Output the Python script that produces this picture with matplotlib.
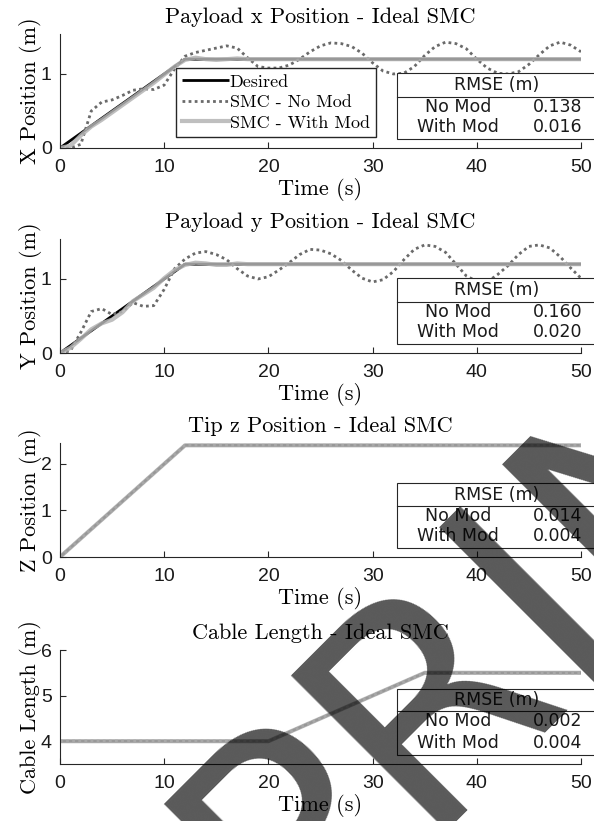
import numpy as np
import matplotlib
matplotlib.use("Agg")
import matplotlib.pyplot as plt
from matplotlib.patches import Rectangle
from matplotlib.lines import Line2D

# ---------------- data ----------------
t_grid = np.arange(0, 51, 1.0)

# Payload x
x_des_t = [0, 12, 50]
x_des = [0.0, 1.2, 1.2]
x_nomod = [0.00, 0.00, 0.05, 0.50, 0.62, 0.65, 0.71, 0.78, 0.80, 0.79, 0.85, 1.07, 1.24, 1.29, 1.32, 1.35,
           1.38, 1.35, 1.22, 1.10, 1.08, 1.08, 1.12, 1.20, 1.30, 1.38, 1.42, 1.41, 1.37, 1.28, 1.15, 1.04,
           1.00, 1.01, 1.10, 1.25, 1.37, 1.43, 1.41, 1.34, 1.20, 1.08, 1.01, 1.00, 1.03, 1.13, 1.26, 1.38,
           1.43, 1.39, 1.30]
x_with_t = [0, 1, 2, 3, 4, 5, 6, 7, 8, 9, 10, 11, 12, 13, 14, 15, 16, 17, 18, 50]
x_with = [0.00, 0.03, 0.17, 0.29, 0.38, 0.48, 0.58, 0.68, 0.78, 0.88, 0.99, 1.10, 1.19, 1.22, 1.20, 1.19,
          1.20, 1.21, 1.20, 1.20]

# Payload y
y_des_t = [0, 12, 50]
y_des = [0.0, 1.2, 1.2]
y_nomod = [0.00, 0.03, 0.28, 0.56, 0.60, 0.52, 0.56, 0.68, 0.63, 0.64, 0.86, 1.14, 1.27, 1.35, 1.37, 1.33,
           1.26, 1.14, 1.04, 1.00, 1.03, 1.12, 1.22, 1.33, 1.40, 1.39, 1.34, 1.25, 1.12, 1.01, 0.96, 0.99,
           1.10, 1.26, 1.40, 1.46, 1.44, 1.36, 1.20, 1.04, 0.97, 0.96, 1.06, 1.18, 1.33, 1.44, 1.46, 1.42,
           1.30, 1.15, 1.01]
y_with_t = [0, 1, 2, 3, 4, 5, 6, 7, 8, 9, 10, 11, 12, 13, 14, 15, 16, 17, 18, 50]
y_with = [0.00, 0.07, 0.19, 0.32, 0.40, 0.45, 0.55, 0.70, 0.79, 0.88, 1.01, 1.12, 1.19, 1.22, 1.21, 1.19,
          1.19, 1.21, 1.20, 1.20]

# Tip z
z_t = [0, 12, 50]
z_des = [0.0, 2.4, 2.4]
z_nomod = [0.0, 2.4, 2.4]
z_with = [0.0, 2.4, 2.4]

# Cable length
c_t = [0, 20, 35, 50]
c_des = [4.0, 4.0, 5.5, 5.5]
c_nomod = [4.0, 4.0, 5.5, 5.5]
c_with = [4.0, 4.0, 5.5, 5.5]

titles = ["Payload x Position - Ideal SMC", "Payload y Position - Ideal SMC",
          "Tip z Position - Ideal SMC", "Cable Length - Ideal SMC"]
ylabels = ["X Position (m)", "Y Position (m)", "Z Position (m)", "Cable Length (m)"]
ylims = [(0, 1.54), (0, 1.54), (0, 2.45), (3.5, 6.0)]
yticks = [[0, 1], [0, 1], [0, 1, 2], [4, 5, 6]]
xticks = [0, 10, 20, 30, 40, 50]
legend_labels = ["Desired", "SMC - No Mod", "SMC - With Mod"]
table_header = "RMSE (m)"
table_rows = ["No Mod", "With Mod"]
rmse_nomod = [0.138, 0.160, 0.014, 0.002]
rmse_with = [0.016, 0.020, 0.004, 0.004]
watermark = "PRINT"

# ---------------- figure ----------------
W, H = 594, 821
fig = plt.figure(figsize=(W / 100, H / 100), dpi=100)


def fx(x):
    return x / W


def fy(y):
    return 1 - y / H


axes_px = [(34, 148), (239, 353), (443, 557), (650, 764)]
SERIF = "cmr10"
SANS = "Liberation Sans"
TABF = "DejaVu Sans"
EDGE = "#262626"

series = [
    (x_des_t, x_des, t_grid, x_nomod, x_with_t, x_with),
    (y_des_t, y_des, t_grid, y_nomod, y_with_t, y_with),
    (z_t, z_des, z_t, z_nomod, z_t, z_with),
    (c_t, c_des, c_t, c_nomod, c_t, c_with),
]

axes = []
for i, (top, bot) in enumerate(axes_px):
    ax = fig.add_axes([fx(60), fy(bot), (581 - 60) / W, (bot - top) / H])
    dt, dv, nt, nv, wt, wv = series[i]
    l1, = ax.plot(dt, dv, color="black", lw=2.0, solid_capstyle="butt")
    l2, = ax.plot(nt, nv, color="#6a6a6a", lw=2.0, linestyle=(0, (1, 1.2)))
    l3, = ax.plot(wt, wv, color="#b4b4b4", lw=3.0, alpha=0.85)
    ax.set_xlim(0, 50)
    ax.set_ylim(*ylims[i])
    ax.set_xticks(xticks)
    ax.set_yticks(yticks[i])
    for s in ["top", "right"]:
        ax.spines[s].set_visible(False)
    for s in ["left", "bottom"]:
        ax.spines[s].set_color(EDGE)
        ax.spines[s].set_linewidth(0.8)
    ax.tick_params(direction="in", length=4, width=0.8, colors=EDGE, labelcolor="#1a1a1a",
                   labelsize=14, labelfontfamily=SANS)
    ax.tick_params(axis="x", pad=8)
    ax.tick_params(axis="y", pad=6)
    ax.set_title(titles[i], fontfamily=SERIF, fontsize=16, pad=8)
    ax.set_xlabel("Time (s)", fontfamily=SERIF, fontsize=16, labelpad=1.5)
    ax.set_ylabel(ylabels[i], fontfamily=SERIF, fontsize=16, labelpad=-1)
    if i == 0:
        ax.legend([l1, l2, l3], legend_labels, loc="upper left",
                  bbox_to_anchor=(fx(176), fy(68)), bbox_transform=fig.transFigure,
                  borderaxespad=0, frameon=True, fancybox=False, edgecolor=EDGE,
                  framealpha=1, prop={"family": SERIF, "size": 13}, handlelength=2.6,
                  handletextpad=0.05, borderpad=0.33, labelspacing=0.27)
    axes.append(ax)

# RMSE tables
tables_px = [(73, 97, 139), (278, 302, 344), (483, 506, 548), (689, 711, 755)]
for i, (top, sep, bot) in enumerate(tables_px):
    rect = Rectangle((fx(397), fy(bot)), fx(640) - fx(397), fy(top) - fy(bot),
                     transform=fig.transFigure, facecolor="white", edgecolor=EDGE,
                     lw=0.8, zorder=5)
    fig.add_artist(rect)
    fig.add_artist(Line2D([fx(397), fx(640)], [fy(sep), fy(sep)], transform=fig.transFigure,
                          color=EDGE, lw=0.8, zorder=6))
    fig.text(fx(497), fy((top + sep) / 2), table_header, ha="center", va="center",
             fontfamily=TABF, fontsize=12.5, color="#1a1a1a", zorder=7)
    r1 = sep + (bot - sep) * 0.23
    r2 = sep + (bot - sep) * 0.72
    fig.text(fx(458), fy(r1), table_rows[0], ha="center", va="center",
             fontfamily=TABF, fontsize=12.5, color="#1a1a1a", zorder=7)
    fig.text(fx(458), fy(r2), table_rows[1], ha="center", va="center",
             fontfamily=TABF, fontsize=12.5, color="#1a1a1a", zorder=7)
    fig.text(fx(582), fy(r1), "%.3f" % rmse_nomod[i], ha="right", va="center",
             fontfamily=TABF, fontsize=12.5, color="#1a1a1a", zorder=7)
    fig.text(fx(582), fy(r2), "%.3f" % rmse_with[i], ha="right", va="center",
             fontfamily=TABF, fontsize=12.5, color="#1a1a1a", zorder=7)

# watermark (large rotated text, partly outside the canvas as in the reference)
fig.text(fx(288.7), fy(958.5), watermark, rotation=45, rotation_mode="anchor",
         ha="left", va="baseline", fontsize=217, fontfamily="DejaVu Sans",
         color="black", alpha=0.65, zorder=20)

fig.savefig("out.png", dpi=100)
